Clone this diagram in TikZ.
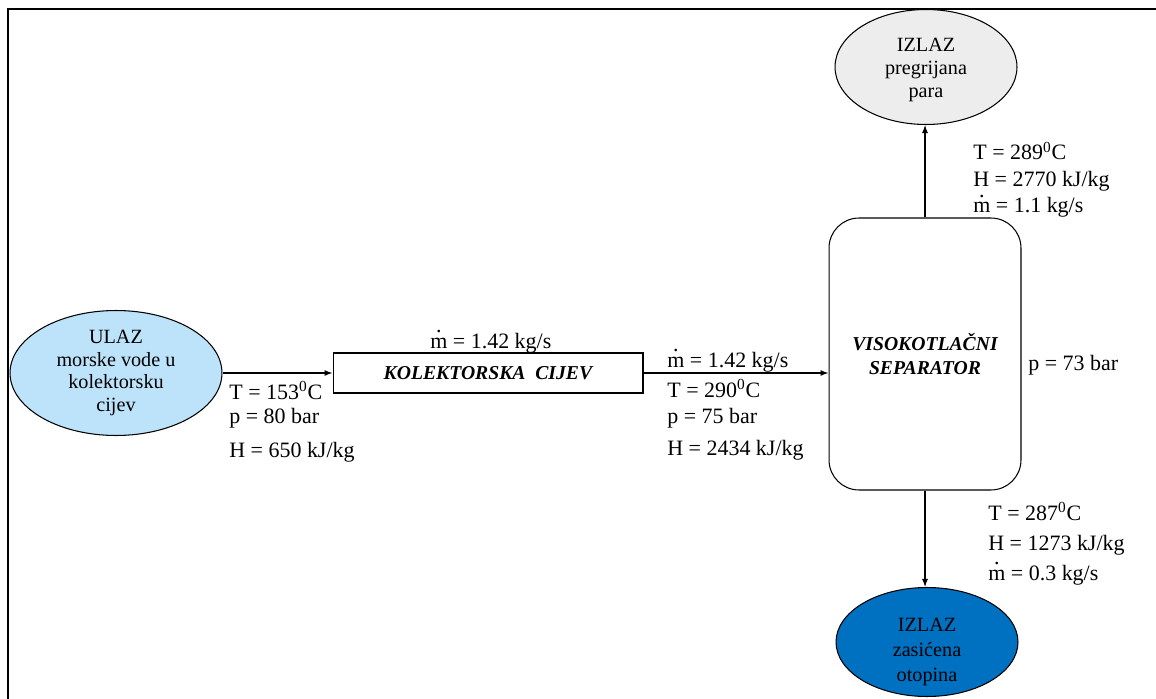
\documentclass[tikz,border=0pt]{standalone}
\usepackage{fontspec}
\setmainfont{Liberation Serif}
\usetikzlibrary{shapes.geometric, arrows.meta, positioning}
\newcommand{\mdot}{\makebox[0pt][l]{\makebox[0.78em]{\smash{\raisebox{0.7em}{.}}}}m}
\newcommand{\dgc}{\textsuperscript{0}C}
\definecolor{ulazblue}{RGB}{189,227,250}
\definecolor{paragray}{RGB}{237,237,237}
\definecolor{otopblue}{RGB}{0,112,192}

\begin{document}
\begin{tikzpicture}[x=0.02cm, y=-0.02cm, >={Latex[length=1.6mm, width=1.2mm]},
    tok/.style={draw, ellipse, line width=0.6pt, inner sep=0pt},
    toktext/.style={align=center, inner sep=0pt, font=\fontsize{11.5}{13}\selectfont},
    unit/.style={draw, line width=0.6pt, inner sep=0pt, align=center,
        font=\fontsize{11.2}{13.5}\selectfont\bfseries\itshape},
    lbl/.style={anchor=base west, inner sep=0pt, font=\fontsize{12.5}{15}\selectfont},
    flow/.style={->, line width=0.6pt}]
\useasboundingbox (0,0) rectangle (1156,699);
% frame
\draw[line width=1pt] (8,699) -- (8,9) -- (1156,9);

% units
\node[tok, fill=ulazblue, minimum width=4.24cm, minimum height=2.5cm,
    label={[toktext]center:ULAZ\\morske vode u\\kolektorsku\\cijev}] (ulaz) at (116,373) {};
\node[unit, minimum width=6.2cm, minimum height=0.8cm] (cijev) at (488,373)
    {KOLEKTORSKA\ \ CIJEV};
\node[unit, rounded corners=0.6cm, minimum width=3.84cm, minimum height=5.44cm] (sep) at (925,354)
    {VISOKOTLAČNI\\SEPARATOR};
\node[tok, fill=paragray, minimum width=3.64cm, minimum height=2.3cm,
    label={[toktext, yshift=-0.06cm]center:IZLAZ\\pregrijana\\para}] (para) at (926,67) {};
\node[tok, fill=otopblue, minimum width=3.64cm, minimum height=2.18cm,
    label={[toktext, font=\fontsize{11.5}{14}\selectfont, yshift=-0.2cm]center:IZLAZ\\zasićena\\otopina}] (otop) at (927,642) {};

% streams
\draw[flow] (ulaz.east) -- (cijev.west);
\draw[flow] (cijev.east) -- (cijev.east -| sep.west);
\draw[flow] (sep.north) -- (sep.north |- para.south);
\draw[flow] (sep.south) -- (sep.south |- otop.north);

% stream data
\node (ta) at (229,399)[lbl]{T = 153\dgc};
\node (pa) at (229,423)[lbl]{p = 80 bar};
\node (ha) at (229,457)[lbl]{H = 650 kJ/kg};
\node (ma) at (430,348)[lbl]{\mdot{} = 1.42 kg/s};
\node (mb) at (667,367)[lbl]{\mdot{} = 1.42 kg/s};
\node (tb) at (667,397)[lbl]{T = 290\dgc};
\node (pb) at (667,423)[lbl]{p = 75 bar};
\node (hb) at (667,455)[lbl]{H = 2434 kJ/kg};
\node (ps) at (1028,370)[lbl]{p = 73 bar};
\node (tc) at (973,160)[lbl]{T = 289\dgc};
\node (hc) at (973,187)[lbl]{H = 2770 kJ/kg};
\node (mc) at (973,213)[lbl]{\mdot{} = 1.1 kg/s};
\node (td) at (988,520)[lbl]{T = 287\dgc};
\node (hd) at (988,550)[lbl]{H = 1273 kJ/kg};
\node (md) at (988,580)[lbl]{\mdot{} = 0.3 kg/s};
\end{tikzpicture}
\end{document}
